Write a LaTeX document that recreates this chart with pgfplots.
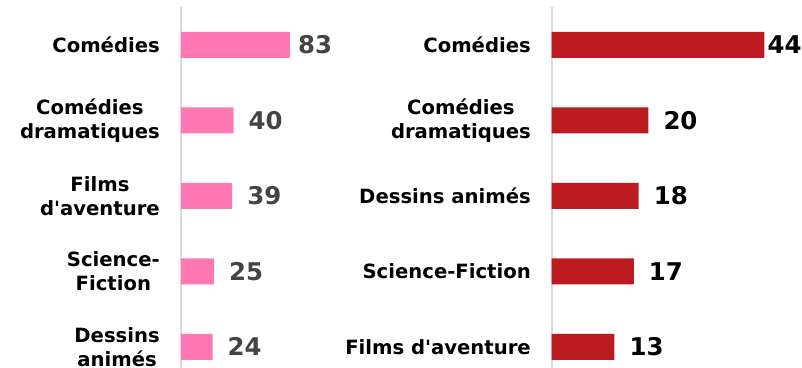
\documentclass[border=0pt]{standalone}
\usepackage{fontspec}
\setmainfont{DejaVu Sans}
\usepackage{pgfplots}
\usepackage{pgfplotstable}
\pgfplotsset{compat=1.18}

\definecolor{barpink}{HTML}{FF78B4}
\definecolor{barred}{HTML}{BD1B22}
\definecolor{rulegray}{HTML}{D9D9D9}
\definecolor{numgray}{HTML}{444444}

% idx = row from the top, val = count, dx = gap before the value label (bp)
\pgfplotstableread{
idx val dx
0 83 8
1 40 15
2 39 15
3 25 15
4 24 15
}\leftdata

\pgfplotstableread{
idx val dx
0 44 3
1 20 15
2 18 15
3 17 15
4 13 15
}\rightdata

\newcommand{\q}{\textquotesingle}

\pgfplotsset{
  genrestyle/.style={
    scale only axis,
    height=360.9bp,
    ymin=-0.5, ymax=4.28,
    y dir=reverse,
    xmin=0,
    clip=false,
    separate axis lines,
    axis x line=none,
    axis y line*=left,
    y axis line style={-, draw=rulegray, line width=2bp},
    xtick=\empty,
    ytick={0,...,4},
    major tick length=0pt,
    yticklabel style={
      font=\fontsize{19.7}{24}\selectfont\bfseries,
      align=center, inner sep=0pt, text=black,
    },
    /pgf/number format/assume math mode=true,
    nodes near coords style={
      font=\fontsize{24.5}{26}\selectfont\bfseries,
      anchor=west, inner sep=0pt, xshift=\dx bp,
    },
  },
}

\begin{document}
\begin{tikzpicture}
% Left panel
\begin{axis}[genrestyle,
  at={(181bp,0bp)}, anchor=south west,
  width=131.3bp, xmax=100,
  yticklabel style={xshift=-21bp},
  yticklabels={Comédies, {Comédies\\dramatiques}, {Films\\d\q aventure},
               {Science-\\Fiction}, {Dessins\\animés}},
  nodes near coords style={text=numgray},
]
\addplot[xbar, bar width=26bp, bar shift=0pt, fill=barpink, draw=none,
  nodes near coords,
  visualization depends on={\thisrow{dx} \as \dx}]
  table[x=val, y=idx] {\leftdata};
\end{axis}

% Right panel
\begin{axis}[genrestyle,
  at={(551.5bp,0bp)}, anchor=south west,
  width=242bp, xmax=50,
  yticklabel style={xshift=-20.5bp},
  yticklabels={Comédies, {Comédies\\dramatiques}, Dessins animés,
               Science-Fiction, Films d\q aventure},
  nodes near coords style={text=black},
]
\addplot[xbar, bar width=26bp, bar shift=0pt, fill=barred, draw=none,
  nodes near coords,
  visualization depends on={\thisrow{dx} \as \dx}]
  table[x=val, y=idx] {\rightdata};
\end{axis}

\pgfresetboundingbox
\path[use as bounding box] (0,0) rectangle (802bp,368bp);
\end{tikzpicture}
\end{document}
